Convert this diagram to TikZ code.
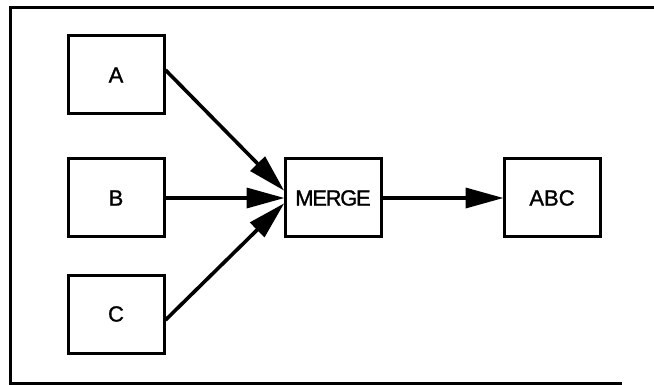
\documentclass[tikz,border=0pt]{standalone}
\usepackage{fontspec}
\setmainfont{Liberation Sans}
\usetikzlibrary{arrows.meta}
\begin{document}
\begin{tikzpicture}[x=1pt,y=-1pt,
  blk/.style={draw,line width=3pt,minimum width=96pt,minimum height=78pt,
    inner sep=0pt,font=\addfontfeature{FakeBold=1.2}\fontsize{22}{22}\selectfont},
  flow/.style={line width=3.6pt,-{Triangle[length=38pt,width=20pt]},shorten >=-1pt}]
\useasboundingbox (0,0) rectangle (654,385);
% open frame round the flow
\draw[line width=3pt] (654,8) -- (10,8) -- (10,383) -- (622,383);
% inputs
\node[blk] (A) at (116,75) {A};
\node[blk] (B) at (116,198) {B};
\node[blk] (C) at (116,314) {C};
% merge step and its result
\node[blk] (M) at (333,198) {\addfontfeature{LetterSpace=-6}MERGE};
\node[blk] (R) at (552,198) {ABC};
% connectors
\draw[flow] ([yshift=5pt]A.east) -- ([yshift=8pt]M.west);
\draw[flow] (B.east) -- (M.west);
\draw[flow] ([yshift=-6pt]C.east) -- ([yshift=-6pt]M.west);
\draw[flow] (M.east) -- (R.west);
\end{tikzpicture}
\end{document}
